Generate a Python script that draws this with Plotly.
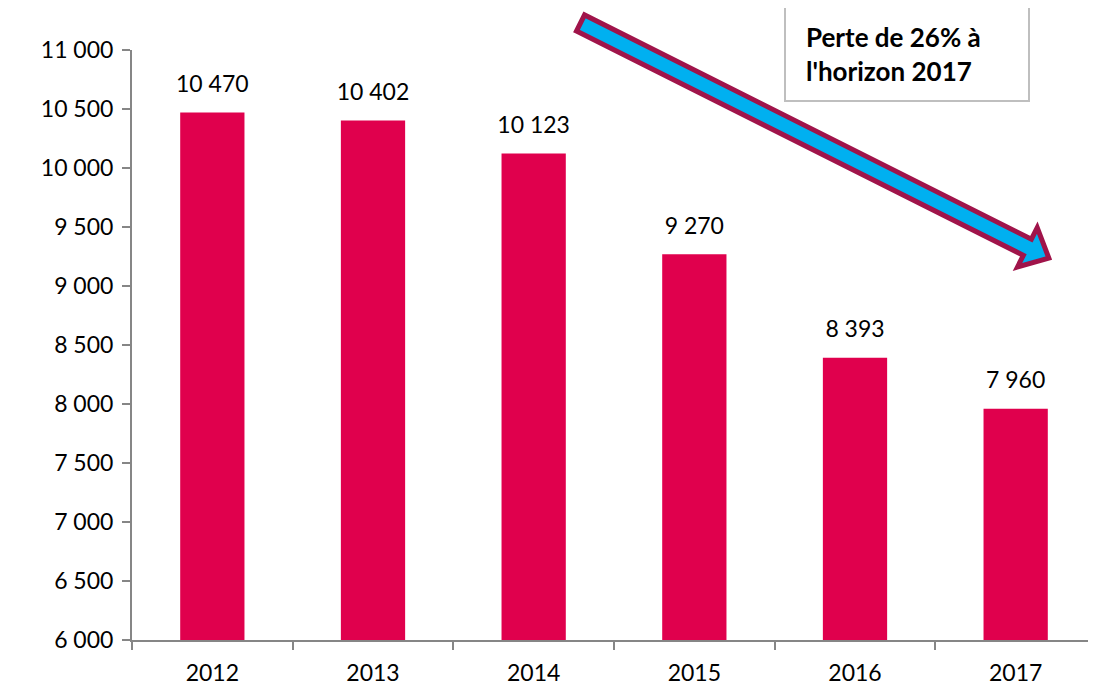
import plotly.graph_objects as go
import math

years = ["2012", "2013", "2014", "2015", "2016", "2017"]
values = [10470, 10402, 10123, 9270, 8393, 7960]
y_ticks = [6000, 6500, 7000, 7500, 8000, 8500, 9000, 9500, 10000, 10500, 11000]

OFF = 8  # default page body margin
W, H = 1096 - OFF, 686 - OFF
L_S, T_S, R_S, B_S = 132, 50, 1096, 640  # plot area in screen pixels
L_M, T_M = L_S - OFF, T_S - OFF
R_M, B_M = 0, 686 - B_S
PW, PH = R_S - L_S, B_S - T_S

def px(x, y):
    return (x - L_S) / PW, (B_S - y) / PH

FONT = "Lato, 'Open Sans', sans-serif"
FS = 23

fig = go.Figure()
fig.add_trace(go.Bar(
    x=years, y=values, width=0.4,
    marker=dict(color="#E0004D", line=dict(width=0)),
))
fig.add_trace(go.Scatter(
    x=years, y=values, mode="markers+text",
    marker=dict(size=22, opacity=0),
    text=[f"{v:,}".replace(",", " ") for v in values],
    textposition="top center",
    textfont=dict(size=FS, color="#000000", family=FONT),
    cliponaxis=False, hoverinfo="skip",
))

# Block arrow (decoration) built in pixel space
tx, ty = 580.5, 23.0
ang = math.atan2(237, 472.2)
ux, uy = math.cos(ang), math.sin(ang)
nx, ny = -uy, ux
Lr, hl, hw, sw = 524, 24, 22, 9
ptx, pty = tx + Lr * ux, ty + Lr * uy
bx, by = ptx - hl * ux, pty - hl * uy
pts = [
    (tx + sw * nx, ty + sw * ny),
    (bx + sw * nx, by + sw * ny),
    (bx + hw * nx, by + hw * ny),
    (ptx, pty),
    (bx - hw * nx, by - hw * ny),
    (bx - sw * nx, by - sw * ny),
    (tx - sw * nx, ty - sw * ny),
]
ppts = [px(a, b) for a, b in pts]
path = "M " + " L ".join(f"{a:.5f},{b:.5f}" for a, b in ppts) + " Z"
fig.add_shape(type="path", path=path, xref="paper", yref="paper",
              fillcolor="#00B0F0", line=dict(color="#A0144A", width=5), layer="above")

x0, y0 = px(785, 101)
x1, y1 = px(1029, 7)
fig.add_shape(type="rect", xref="paper", yref="paper", x0=x0, y0=y0, x1=x1, y1=y1,
              line=dict(color="#BFBFBF", width=2), fillcolor="white", layer="above")
ax, ay = px(804, 54)
fig.add_annotation(xref="paper", yref="paper", x=ax, y=ay, xanchor="left", yanchor="middle",
                   text="<b>Perte de 26% à<br>l'horizon 2017</b>", showarrow=False, align="left",
                   font=dict(size=26, color="#000000", family=FONT))

fig.update_layout(
    width=W, height=H,
    margin=dict(l=L_M, r=R_M, t=T_M, b=B_M, pad=0),
    plot_bgcolor="white", paper_bgcolor="white",
    separators=", ",
    showlegend=False,
    font=dict(family=FONT, size=FS, color="#000000"),
)
fig.update_xaxes(
    type="category", showline=True, linecolor="#868686", linewidth=2,
    ticks="outside", tickson="boundaries", ticklen=8, tickcolor="#868686", tickwidth=2,
    tickfont=dict(size=FS, family=FONT), showgrid=False, ticklabelstandoff=11,
)
fig.update_yaxes(
    range=[6000, 11000], tickvals=y_ticks, tickformat=",d",
    showline=True, linecolor="#868686", linewidth=2,
    ticks="outside", ticklen=8, tickcolor="#868686", tickwidth=2,
    tickfont=dict(size=FS, family=FONT), showgrid=False, zeroline=False,
    ticklabelstandoff=4,
)

fig.write_html("out.html")
